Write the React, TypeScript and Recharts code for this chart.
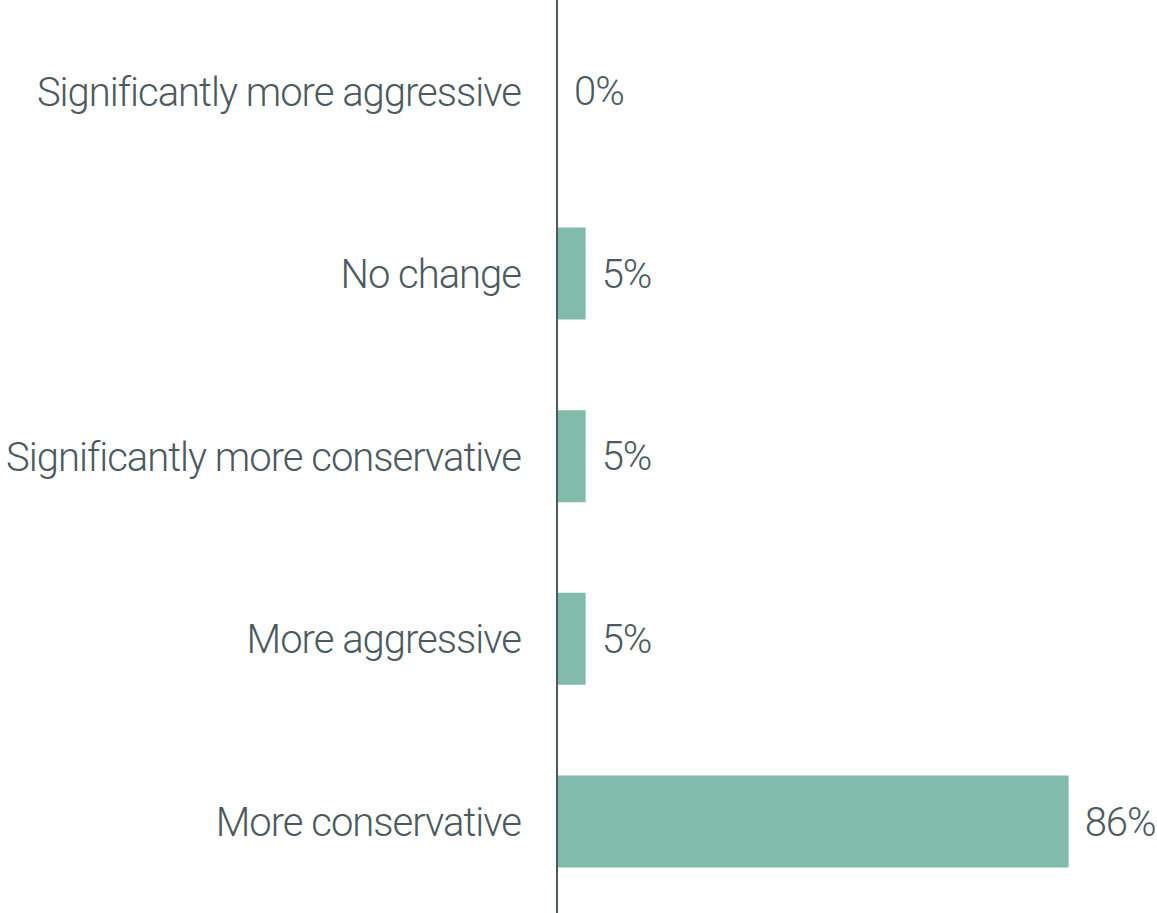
import React from "react";
import { BarChart, Bar, XAxis, YAxis, LabelList } from "recharts";

const categories = [
  "Significantly more aggressive",
  "No change",
  "Significantly more conservative",
  "More aggressive",
  "More conservative",
];
const values = [0, 4.8, 4.8, 4.8, 85.7];

const data = categories.map((c, i) => ({ name: c, value: values[i] }));

const TEXT = "#4b5a5f";
const FONT = "Roboto, sans-serif";

export default function App() {
  return (
    <div style={{ position: "absolute", left: 0, top: 0, width: 1157, height: 913, background: "#fff" }}>
      <BarChart
        width={1157}
        height={913}
        data={data}
        layout="vertical"
        margin={{ top: 0, right: 3, bottom: 0, left: 0 }}
        barSize={92}
      >
        <XAxis type="number" domain={[0, 100]} hide />
        <Bar dataKey="value" fill="#82baac" isAnimationActive={false} minPointSize={1}>
          <LabelList
            dataKey="value"
            position="right"
            offset={16}
            formatter={(v: number) => `${Math.round(v)}%`}
            style={{ fill: TEXT, fontSize: 40, fontFamily: FONT, fontWeight: 300, letterSpacing: -1 }}
          />
        </Bar>
        <YAxis
          type="category"
          dataKey="name"
          width={557}
          tickLine={false}
          tickSize={0}
          tickMargin={36}
          axisLine={{ stroke: "#4a5a5e", strokeWidth: 2 }}
          tick={{ fill: TEXT, fontSize: 40, fontFamily: FONT, fontWeight: 300, letterSpacing: -1 }}
        />
      </BarChart>
    </div>
  );
}
